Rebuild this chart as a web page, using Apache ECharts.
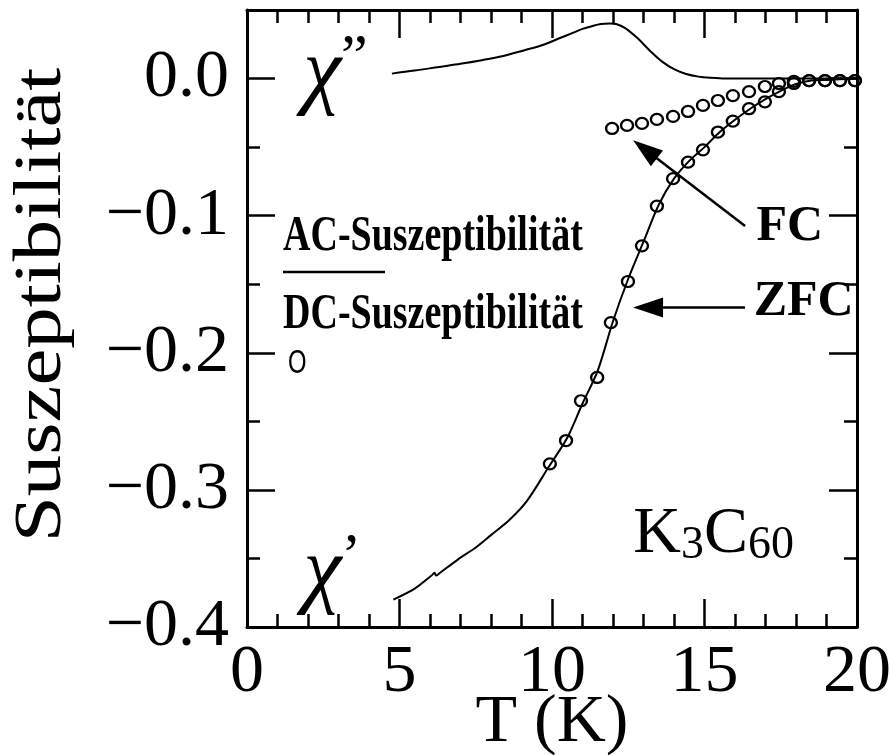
<!DOCTYPE html>
<html>
<head>
<meta charset="utf-8">
<script src="https://cdn.jsdelivr.net/npm/echarts@6/dist/echarts.min.js"></script>
<style>
  html, body { margin: 0; padding: 0; background: #fff; }
  #chart { width: 889px; height: 755px; }
</style>
</head>
<body>
<div id="chart"></div>
<script>
// Temperature axis (K) and susceptibility axis
const xTickValues = [0, 5, 10, 15, 20];
const yTickValues = [-0.4, -0.3, -0.2, -0.1, 0.0];

// AC susceptibility, imaginary part chi''
const chiImagT = [4.75, 5.5, 6.3, 7.0, 7.7, 8.4, 9.1, 9.7, 10.2, 10.7, 11.0, 11.3, 11.6, 11.9, 12.1, 12.4, 12.8, 13.2, 13.6, 14.0, 14.4, 14.8, 15.2, 15.6, 16.0, 17.0, 18.0, 19.0, 20.0];
const chiImagV = [0.0036, 0.0058, 0.0085, 0.0108, 0.0134, 0.0165, 0.0207, 0.0245, 0.0290, 0.0335, 0.0362, 0.0382, 0.0398, 0.0402, 0.0398, 0.0368, 0.0295, 0.0205, 0.0125, 0.0068, 0.0033, 0.0014, 0.0005, 0.0001, 0.0, 0.0, 0.0, 0.0, 0.0];

// AC susceptibility, real part chi'
const chiRealT = [4.8, 5.5, 6.05, 6.15, 6.2, 6.3, 6.9, 7.5, 8.0, 8.6, 9.18, 9.9, 10.5, 11.0, 11.5, 12.0, 12.5, 13.0, 13.5, 14.0, 14.5, 15.0, 15.5, 16.0, 16.5, 17.0, 17.5, 18.0, 18.5, 19.0, 20.0];
const chiRealV = [-0.380, -0.372, -0.3625, -0.3605, -0.3625, -0.361, -0.351, -0.342, -0.333, -0.322, -0.308, -0.283, -0.262, -0.237, -0.213, -0.177, -0.146, -0.119, -0.092, -0.073, -0.060, -0.050, -0.039, -0.030, -0.022, -0.015, -0.009, -0.004, -0.0015, -0.001, 0.0];

// DC susceptibility, zero-field-cooled
const zfcT = [9.93, 10.46, 10.95, 11.48, 11.93, 12.49, 12.95, 13.44, 13.97, 14.46, 14.95, 15.44, 15.93, 16.46, 16.98, 17.44, 17.93, 18.43, 18.95, 19.44, 19.93];
const zfcV = [-0.281, -0.264, -0.235, -0.218, -0.178, -0.148, -0.122, -0.093, -0.073, -0.061, -0.052, -0.039, -0.031, -0.022, -0.017, -0.0095, -0.0036, -0.0015, -0.0015, -0.0015, -0.0015];

// DC susceptibility, field-cooled
const fcT = [11.97, 12.46, 12.95, 13.44, 13.97, 14.46, 14.95, 15.44, 15.93, 16.46, 16.98, 17.44, 17.93, 18.43, 18.95, 19.44, 19.93];
const fcV = [-0.0364, -0.0342, -0.0327, -0.0298, -0.0276, -0.0240, -0.0196, -0.0160, -0.0124, -0.0095, -0.0058, -0.0036, -0.0020, -0.0015, -0.0015, -0.0015, -0.0015];

const zip = (a, b) => a.map((v, i) => [v, b[i]]);

const serif = '"Liberation Serif", "Times New Roman", serif';
const tickFont = { fontFamily: serif, fontSize: 68, color: '#000' };

const chart = echarts.init(document.getElementById('chart'), null, { renderer: 'canvas' });

function xAxisDef(pos, showLabel) {
  return {
    type: 'value', position: pos, min: 0, max: 20, interval: 5,
    axisLine: { show: true, onZero: false, lineStyle: { color: '#000', width: 3 } },
    axisTick: { show: true, inside: true, length: 28, lineStyle: { color: '#000', width: 2.5 } },
    minorTick: { show: true, splitNumber: 5, length: 13, lineStyle: { color: '#000', width: 2.5 } },
    splitLine: { show: false },
    axisLabel: showLabel ? Object.assign({ show: true, margin: 12 }, tickFont) : { show: false },
    name: showLabel ? 'T (K)' : '',
    nameLocation: 'middle', nameGap: 62, nameMoveOverlap: false,
    nameTextStyle: { fontFamily: serif, fontSize: 68, color: '#000' }
  };
}

function yAxisDef(pos, showLabel) {
  return {
    type: 'value', position: pos, min: -0.4, max: 0.05, interval: 0.1,
    axisLine: { show: true, onZero: false, lineStyle: { color: '#000', width: 3 } },
    axisTick: { show: true, inside: true, length: 28, lineStyle: { color: '#000', width: 2.5 } },
    minorTick: { show: true, splitNumber: 2, length: 13, lineStyle: { color: '#000', width: 2.5 } },
    splitLine: { show: false },
    axisLabel: showLabel ? Object.assign({
      show: true, margin: 18, showMaxLabel: false,
      formatter: v => (v > 0.001 ? '' : v.toFixed(1).replace('-', '\u2212'))
    }, tickFont) : { show: false }
  };
}

// Text annotations placed in data coordinates
const chiStyle = { fontFamily: serif, fontStyle: 'italic', fontSize: 86, color: '#000' };
const annotations = [
  { value: [2.9, 0.003], label: { formatter: '{c|\u03C7}{p|\u201D}', rich: { c: chiStyle, p: { fontFamily: serif, fontSize: 60, color: '#000', padding: [0, 0, 30, 0] } } } },
  { value: [2.8, -0.361], label: { formatter: '{c|\u03C7}{p|\u2019}', rich: { c: chiStyle, p: { fontFamily: serif, fontSize: 60, color: '#000', padding: [0, 0, 30, 0] } } } },
  { value: [17.8, -0.108], label: { formatter: 'FC', fontFamily: serif, fontWeight: 'bold', fontSize: 50, color: '#000' } },
  { value: [18.25, -0.163], label: { formatter: 'ZFC', fontFamily: serif, fontWeight: 'bold', fontSize: 50, color: '#000' } },
  { value: [15.3, -0.333], label: { formatter: '{b|K}{s|3}{b|C}{s|60}', rich: {
      b: { fontFamily: serif, fontSize: 66, color: '#000' },
      s: { fontFamily: serif, fontSize: 46, color: '#000', padding: [22, 0, 0, 0] } } } }
];

const option = {
  animation: false,
  backgroundColor: '#fff',
  grid: { left: 247, right: 32, top: 10, bottom: 128, containLabel: false, outerBoundsMode: 'none' },
  xAxis: [xAxisDef('bottom', true), xAxisDef('top', false)],
  yAxis: [yAxisDef('left', true), yAxisDef('right', false)],
  series: [
    {
      name: "chi''", type: 'line', data: zip(chiImagT, chiImagV), showSymbol: false, smooth: 0.35,
      lineStyle: { color: '#000', width: 2 }, z: 2
    },
    {
      name: "chi'", type: 'line', data: zip(chiRealT, chiRealV), showSymbol: false, smooth: 0.3,
      lineStyle: { color: '#000', width: 2 }, z: 2
    },
    {
      name: 'ZFC', type: 'scatter', data: zip(zfcT, zfcV), symbol: 'circle', symbolSize: [12, 11],
      itemStyle: { color: 'rgba(0,0,0,0)', borderColor: '#000', borderWidth: 2.3, opacity: 1 }, z: 3
    },
    {
      name: 'FC', type: 'scatter', data: zip(fcT, fcV), symbol: 'circle', symbolSize: [12, 11],
      itemStyle: { color: 'rgba(0,0,0,0)', borderColor: '#000', borderWidth: 2.3, opacity: 1 }, z: 3,
      markLine: {
        silent: true, symbol: ['none', 'triangle'], symbolSize: [20, 30],
        lineStyle: { color: '#000', width: 2.5, type: 'solid', opacity: 1 },
        itemStyle: { color: '#000' },
        label: { show: false },
        data: [
          [{ coord: [16.33, -0.1076] }, { coord: [13.05, -0.0516] }],
          [{ coord: [16.33, -0.167] }, { coord: [13.15, -0.167] }]
        ]
      }
    },
    {
      name: 'annotations', type: 'scatter', data: annotations, symbolSize: 0, silent: true,
      itemStyle: { opacity: 1 },
      label: { show: true, position: 'inside', align: 'center', verticalAlign: 'middle', opacity: 1 }, z: 4
    }
  ],
  graphic: [
    // rotated susceptibility axis title, stretched along its baseline
    { type: 'text', x: 42, y: 305, rotation: Math.PI / 2, scaleX: 1.22,
      style: { text: 'Suszeptibilität', font: '68px "Liberation Serif"', fill: '#000', align: 'center', verticalAlign: 'middle' } },
    { type: 'text', x: 283, y: 212, scaleX: 0.76, style: { text: 'AC-Suszeptibilität', font: 'bold 50px "Liberation Serif"', fill: '#000' } },
    { type: 'line', shape: { x1: 283, y1: 272, x2: 385, y2: 272 }, style: { stroke: '#000', lineWidth: 2.5 } },
    { type: 'text', x: 283, y: 290, scaleX: 0.76, style: { text: 'DC-Suszeptibilität', font: 'bold 50px "Liberation Serif"', fill: '#000' } },
    { type: 'text', x: 288, y: 347, scaleX: 0.7, style: { text: 'O', font: '34px "Liberation Sans"', fill: '#000' } }
  ]
};

chart.setOption(option);
</script>
</body>
</html>
